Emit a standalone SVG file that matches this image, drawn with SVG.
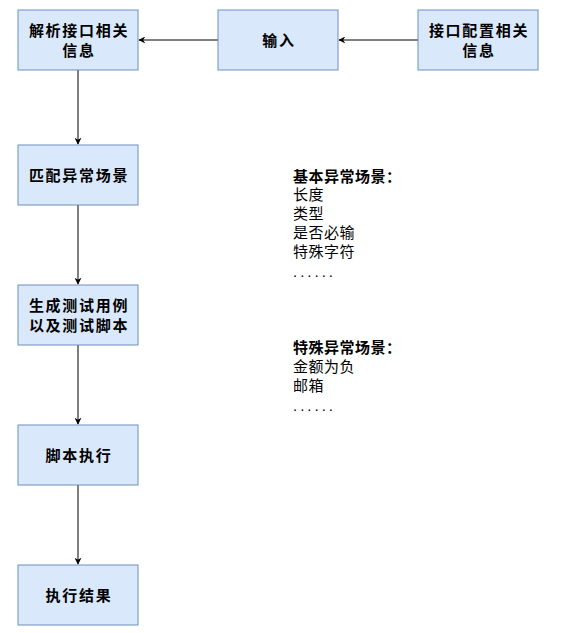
<svg xmlns="http://www.w3.org/2000/svg" width="564" height="633" viewBox="0 0 564 633">
<defs>
<style>
.box{fill:#dae8fc;stroke:#6c8ebf;stroke-width:1}
.lbl{font-family:"Liberation Sans","Noto Sans CJK SC",sans-serif;font-size:15px;letter-spacing:1.7px;font-weight:bold;fill:#000;text-anchor:middle}
.txt{font-family:"Liberation Sans","Noto Sans CJK SC",sans-serif;font-size:15px;letter-spacing:0.5px;fill:#000}
.hd{font-weight:bold}
.dots{letter-spacing:3px}
.edge{fill:none;stroke:#000;stroke-width:1}
</style>
<marker id="arr" viewBox="0 0 10 10" refX="9" refY="5" markerWidth="7" markerHeight="7" orient="auto" markerUnits="userSpaceOnUse">
<path d="M0,0 L10,5 L0,10 L3,5 Z" fill="#000"/>
</marker>
</defs>
<rect width="564" height="633" fill="#fff"/>
<g id="edges">
<path class="edge" d="M418,40 L339,40" marker-end="url(#arr)"/>
<path class="edge" d="M218,40 L139,40" marker-end="url(#arr)"/>
<path class="edge" d="M78,70 L78,144" marker-end="url(#arr)"/>
<path class="edge" d="M78,205 L78,284" marker-end="url(#arr)"/>
<path class="edge" d="M78,345 L78,424" marker-end="url(#arr)"/>
<path class="edge" d="M78,485 L78,564" marker-end="url(#arr)"/>
</g>
<g id="n1"><rect class="box" x="18" y="10" width="120" height="60"/><text class="lbl" x="79" y="36">解析接口相关</text><text class="lbl" x="79" y="56">信息</text></g>
<g id="n2"><rect class="box" x="218" y="10" width="120" height="60"/><text class="lbl" x="279" y="46">输入</text></g>
<g id="n3"><rect class="box" x="418" y="10" width="120" height="60"/><text class="lbl" x="479" y="36">接口配置相关</text><text class="lbl" x="479" y="56">信息</text></g>
<g id="n4"><rect class="box" x="18" y="145" width="120" height="60"/><text class="lbl" x="79" y="181">匹配异常场景</text></g>
<g id="n5"><rect class="box" x="18" y="285" width="120" height="60"/><text class="lbl" x="79" y="311">生成测试用例</text><text class="lbl" x="79" y="331">以及测试脚本</text></g>
<g id="n6"><rect class="box" x="18" y="425" width="120" height="60"/><text class="lbl" x="79" y="461">脚本执行</text></g>
<g id="n7"><rect class="box" x="18" y="565" width="120" height="60"/><text class="lbl" x="79" y="601">执行结果</text></g>
<g id="note1">
<text x="293" y="182" class="txt hd">基本异常场景：</text>
<text x="293" y="200" class="txt">长度</text>
<text x="293" y="219" class="txt">类型</text>
<text x="293" y="238" class="txt">是否必输</text>
<text x="293" y="257" class="txt">特殊字符</text>
<text x="293" y="277" class="txt dots">......</text>
</g>
<g id="note2">
<text x="293" y="353" class="txt hd">特殊异常场景：</text>
<text x="293" y="372" class="txt">金额为负</text>
<text x="293" y="391" class="txt">邮箱</text>
<text x="293" y="411" class="txt dots">......</text>
</g>
</svg>
